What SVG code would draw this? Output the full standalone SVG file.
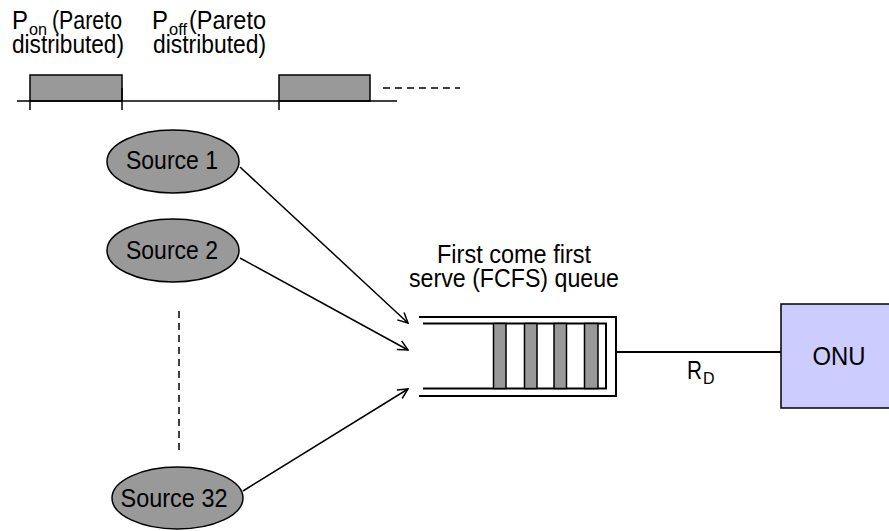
<svg xmlns="http://www.w3.org/2000/svg" width="889" height="531" viewBox="0 0 889 531">
  <style>
    text { font-family: "Liberation Sans", Arial, Helvetica, sans-serif; font-size: 25px; fill: #000; }
    .src { fill: #999999; stroke: #000; stroke-width: 1.5; }
    .bar { fill: #999999; stroke: #000; stroke-width: 1.5; }
    .ln { fill: none; stroke: #000; stroke-width: 1.5; }
    .thick { fill: none; stroke: #000; stroke-width: 2; }
    .dash { fill: none; stroke: #000; stroke-width: 1.5; stroke-dasharray: 7 5; }
    .sub { font-size: 16px; }
  </style>
  <defs>
    <marker id="arrow" viewBox="0 0 12 12" refX="11" refY="6" markerWidth="12" markerHeight="12" markerUnits="userSpaceOnUse" orient="auto">
      <path d="M1,1 L11,6 L1,11" fill="none" stroke="#000" stroke-width="1.5"/>
    </marker>
  </defs>

  <!-- on/off timing labels -->
  <g id="timing-labels">
    <text x="12" y="29" textLength="16" lengthAdjust="spacingAndGlyphs">P</text>
    <text x="29" y="35" class="sub" textLength="18" lengthAdjust="spacingAndGlyphs">on</text>
    <text x="52" y="29" textLength="70" lengthAdjust="spacingAndGlyphs">(Pareto</text>
    <text x="12" y="53" textLength="112" lengthAdjust="spacingAndGlyphs">distributed)</text>
    <text x="152" y="29" textLength="16" lengthAdjust="spacingAndGlyphs">P</text>
    <text x="169" y="35" class="sub" textLength="18" lengthAdjust="spacingAndGlyphs">off</text>
    <text x="189" y="29" textLength="77" lengthAdjust="spacingAndGlyphs">(Pareto</text>
    <text x="153" y="53" textLength="113" lengthAdjust="spacingAndGlyphs">distributed)</text>
  </g>

  <!-- on/off pulse train -->
  <g id="timeline">
    <rect x="30" y="75" width="92" height="26" class="bar"/>
    <rect x="279" y="75" width="91" height="26" class="bar"/>
    <line x1="17" y1="101" x2="397" y2="101" class="ln"/>
    <line x1="30" y1="101" x2="30" y2="110" class="ln"/>
    <line x1="122" y1="88" x2="122" y2="110" class="ln"/>
    <line x1="279" y1="101" x2="279" y2="110" class="ln"/>
    <line x1="383" y1="88" x2="460" y2="88" class="dash"/>
  </g>

  <!-- traffic sources -->
  <g id="source-1">
    <ellipse cx="173" cy="161.5" rx="66" ry="31.5" class="src"/>
    <text x="172" y="169" text-anchor="middle" textLength="92" lengthAdjust="spacingAndGlyphs">Source 1</text>
  </g>
  <g id="source-2">
    <ellipse cx="173" cy="250.5" rx="66" ry="31.5" class="src"/>
    <text x="172" y="259" text-anchor="middle" textLength="92" lengthAdjust="spacingAndGlyphs">Source 2</text>
  </g>
  <g id="source-32">
    <ellipse cx="177.5" cy="498" rx="65.5" ry="31" class="src"/>
    <text x="174" y="507" text-anchor="middle" textLength="107" lengthAdjust="spacingAndGlyphs">Source 32</text>
  </g>

  <!-- FCFS queue -->
  <g id="queue">
    <text x="514" y="263" text-anchor="middle" textLength="154" lengthAdjust="spacingAndGlyphs">First come first</text>
    <text x="514" y="287" text-anchor="middle" textLength="210" lengthAdjust="spacingAndGlyphs">serve (FCFS) queue</text>
    <path d="M419,317 H616 V396 H419" class="thick"/>
    <path d="M423,323.5 H606 V388.5 H423" class="thick"/>
    <rect x="493.5" y="323.5" width="12.5" height="65" class="bar"/>
    <rect x="524.5" y="323.5" width="12.5" height="65" class="bar"/>
    <rect x="554" y="323.5" width="12.5" height="65" class="bar"/>
    <rect x="584.5" y="323.5" width="13.5" height="65" class="bar"/>
  </g>

  <!-- ONU -->
  <g id="onu">
    <rect x="781" y="304" width="120" height="104" fill="#ccccff" stroke="#000" stroke-width="1.5"/>
    <text x="839" y="365" text-anchor="middle" textLength="53" lengthAdjust="spacingAndGlyphs">ONU</text>
  </g>

  <!-- connectors -->
  <g id="connectors">
    <line x1="240" y1="167" x2="408" y2="323" class="ln" marker-end="url(#arrow)"/>
    <line x1="240" y1="258" x2="408" y2="350" class="ln" marker-end="url(#arrow)"/>
    <line x1="243" y1="491" x2="408" y2="389" class="ln" marker-end="url(#arrow)"/>
    <line x1="179" y1="311" x2="179" y2="455" class="dash" stroke-dasharray="6.5 5"/>
    <line x1="616" y1="352" x2="781" y2="352" class="thick"/>
    <text x="687" y="379" textLength="15" lengthAdjust="spacingAndGlyphs">R</text>
    <text x="703" y="384" class="sub">D</text>
  </g>
</svg>
